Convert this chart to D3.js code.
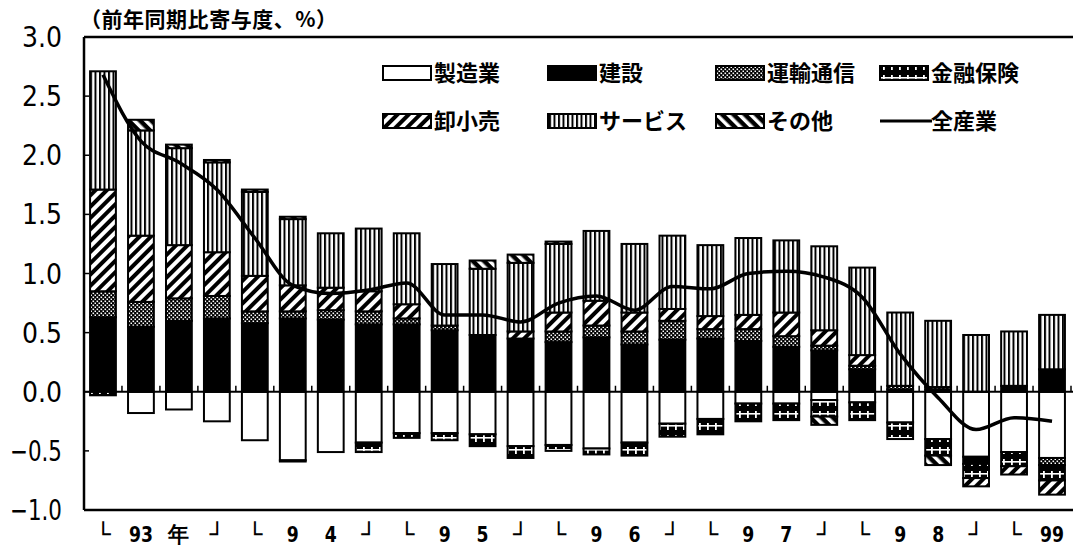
<!DOCTYPE html>
<html><head><meta charset="utf-8">
<script src="https://cdn.jsdelivr.net/npm/d3@7/dist/d3.min.js"></script>
<style>
html,body{margin:0;padding:0;background:#fff;}
svg{display:block;}
text{fill:#000;}
</style></head>
<body><svg id="chart" width="1075" height="550"></svg>
<script>
// ---------- data ----------
const quarters = ["93Q1","93Q2","93Q3","93Q4","94Q1","94Q2","94Q3","94Q4","95Q1","95Q2","95Q3","95Q4",
  "96Q1","96Q2","96Q3","96Q4","97Q1","97Q2","97Q3","97Q4","98Q1","98Q2","98Q3","98Q4","99Q1","99Q2"];
const xLabels = ["└","93","年","┘","└","9","4","┘","└","9","5","┘","└","9","6","┘","└","9","7","┘","└","9","8","┘","└","99"];
const seriesNames = ["製造業","建設","運輸通信","金融保険","卸小売","サービス","その他"];
const manufacturing = [0,-0.18,-0.15,-0.25,-0.41,-0.58,-0.51,-0.43,-0.35,-0.35,-0.36,-0.46,-0.45,-0.48,-0.43,-0.27,-0.23,-0.10,-0.10,-0.07,-0.09,-0.26,-0.40,-0.55,-0.51,-0.56];
const construction  = [0.63,0.55,0.60,0.62,0.58,0.62,0.61,0.57,0.57,0.52,0.48,0.45,0.42,0.46,0.40,0.44,0.45,0.43,0.38,0.35,0.19,0.02,0.02,-0.06,0.05,0.19];
const transport     = [0.22,0.21,0.19,0.19,0.10,0.06,0.08,0.11,0.05,0.04,0,0,0.09,0.10,0.11,0.16,0.08,0.10,0.09,0.04,0.03,0.03,0.02,0,0,-0.06];
const finance       = [-0.03,0,0,0,0,-0.01,0,-0.08,-0.04,-0.06,-0.10,-0.10,-0.05,-0.05,-0.11,-0.11,-0.13,-0.15,-0.14,-0.14,-0.15,-0.14,-0.14,-0.12,-0.12,-0.13];
const trade         = [0.86,0.56,0.45,0.37,0.30,0.22,0.19,0.17,0.12,0,0,0.06,0.16,0.21,0.16,0.10,0.11,0.12,0.20,0.13,0.09,0,0,-0.07,-0.07,-0.12];
const services      = [1.00,0.89,0.82,0.76,0.71,0.56,0.46,0.53,0.60,0.52,0.56,0.58,0.58,0.59,0.58,0.62,0.60,0.65,0.61,0.71,0.74,0.62,0.56,0.48,0.46,0.46];
const others        = [0,0.09,0.03,0.02,0.02,0.02,0,0,0,0,0.07,0.07,0.02,0,0,0,0,0,0,-0.07,0,0,-0.08,0,0,0];
const allIndustries = [2.68,2.12,1.94,1.71,1.30,0.90,0.83,0.86,0.92,0.65,0.65,0.59,0.75,0.81,0.69,0.89,0.87,1.00,1.02,0.97,0.80,0.32,-0.05,-0.32,-0.22,-0.25];
const yTicks = [3.0,2.5,2.0,1.5,1.0,0.5,0.0,-0.5,-1.0];
const lineName = "全産業";
const titleText = "（前年同期比寄与度、%）";

// ---------- build ----------
const seriesValues = [manufacturing, construction, transport, finance, trade, services, others];
const rows = quarters.map((q,i)=>{ const r={q}; seriesNames.forEach((n,k)=>r[n]=seriesValues[k][i]); return r; });

const svg = d3.select("#chart");
const L=84, R=1071, T=37, B=510;
const x = d3.scaleBand().domain(quarters).range([L,R]).paddingInner(0.32).paddingOuter(0.16);
const y = d3.scaleLinear().domain([-1,3]).range([B,T]);

// patterns
const defs = svg.append("defs");
function pat(id,w,h,bg,rot){ const p=defs.append("pattern").attr("id",id).attr("patternUnits","userSpaceOnUse").attr("width",w).attr("height",h); if(rot) p.attr("patternTransform",`rotate(${rot})`); p.append("rect").attr("width",w).attr("height",h).attr("fill",bg); return p; }
let p;
p = pat("pDots",4,4,"#000"); p.append("rect").attr("x",0.5).attr("y",0.5).attr("width",1.6).attr("height",1.6).attr("fill","#fff"); p.append("rect").attr("x",2.5).attr("y",2.5).attr("width",1.6).attr("height",1.6).attr("fill","#fff");
p = pat("pFin",8,12,"#000"); p.append("rect").attr("x",0).attr("y",5).attr("width",8).attr("height",1.6).attr("fill","#fff"); p.append("rect").attr("x",3).attr("y",3).attr("width",1.8).attr("height",7).attr("fill","#fff");
p = pat("pTrade",8,8,"#fff",45); p.append("rect").attr("width",4).attr("height",8).attr("fill","#000");
p = pat("pServ",4.5,10,"#fff"); p.append("rect").attr("width",2).attr("height",10).attr("fill","#000");
p = pat("pOther",8,8,"#000",-45); p.append("rect").attr("width",3.5).attr("height",8).attr("fill","#fff");
const fills = {"製造業":"#fff","建設":"#000","運輸通信":"url(#pDots)","金融保険":"url(#pFin)","卸小売":"url(#pTrade)","サービス":"url(#pServ)","その他":"url(#pOther)"};

// stacked bars
const stacked = d3.stack().keys(seriesNames).offset(d3.stackOffsetDiverging)(rows);
const gBars = svg.append("g");
stacked.forEach(s=>{
  gBars.append("g").selectAll("rect").data(s.filter(d=>Math.abs(d[1]-d[0])>1e-9)).join("rect")
    .attr("x",d=>x(d.data.q)).attr("width",x.bandwidth())
    .attr("y",d=>y(Math.max(d[0],d[1]))).attr("height",d=>Math.abs(y(d[0])-y(d[1])))
    .attr("fill",fills[s.key]).attr("stroke","#000").attr("stroke-width",2);
});

// frame
svg.append("line").attr("x1",L).attr("x2",R+2).attr("y1",T).attr("y2",T).attr("stroke","#000").attr("stroke-width",2.5);
svg.append("line").attr("x1",L).attr("x2",R+2).attr("y1",B).attr("y2",B).attr("stroke","#000").attr("stroke-width",2.5);
svg.append("line").attr("x1",L).attr("x2",L).attr("y1",T).attr("y2",B).attr("stroke","#000").attr("stroke-width",2.5);
// zero line with boundary ticks
svg.append("line").attr("x1",L).attr("x2",R+2).attr("y1",y(0)).attr("y2",y(0)).attr("stroke","#000").attr("stroke-width",2);
const step = x.step();
svg.append("g").selectAll("line").data(d3.range(1,quarters.length+1)).join("line")
  .attr("x1",k=>L+k*step).attr("x2",k=>L+k*step).attr("y1",y(0)).attr("y2",y(0)-6).attr("stroke","#000").attr("stroke-width",1.5);

// y axis ticks & labels
const yAxis = svg.append("g");
yAxis.selectAll("line").data(yTicks).join("line").attr("x1",L).attr("x2",L+5).attr("y1",d=>y(d)).attr("y2",d=>y(d)).attr("stroke","#000").attr("stroke-width",1.5);
yAxis.selectAll("text").data(yTicks).join("text")
  .attr("x",62).attr("y",d=>y(d)+10).attr("text-anchor","end")
  .attr("font-family","DejaVu Sans").attr("font-size",28)
  .attr("textLength",d=>d<0?52:40).attr("lengthAdjust","spacingAndGlyphs")
  .text(d=>d3.format(".1f")(d));

// x labels
svg.append("g").selectAll("text").data(quarters).join("text")
  .attr("transform",(d,i)=>`translate(${x(d)+x.bandwidth()/2},${542})`)
  .attr("text-anchor","middle").attr("font-family","DejaVu Sans").attr("font-weight","bold").attr("font-size",22)
  .attr("textLength",(d,i)=>xLabels[i].length===2?24:(/[0-9]/.test(xLabels[i])?12:(xLabels[i]==="年"?21:15))).attr("lengthAdjust","spacingAndGlyphs")
  .text((d,i)=>xLabels[i]);

// line
const line = d3.line().x((d,i)=>x(quarters[i])+x.bandwidth()/2).y(d=>y(d)).curve(d3.curveMonotoneX);
svg.append("path").datum(allIndustries).attr("d",line).attr("fill","none").attr("stroke","#000").attr("stroke-width",3.5).attr("stroke-linejoin","round");

// title
svg.append("text").attr("x",80).attr("y",27).attr("font-family","Noto Sans CJK JP").attr("font-weight","bold").attr("font-size",21)
  .attr("textLength",257).attr("lengthAdjust","spacing").text(titleText);

// legend
const legX = [383,548,716,880], legY=[66,114];
const order = ["製造業","建設","運輸通信","金融保険","卸小売","サービス","その他",lineName];
const gLeg = svg.append("g");
order.forEach((name,i)=>{
  const cx = legX[i%4], cy = legY[Math.floor(i/4)];
  if(name===lineName){
    gLeg.append("line").attr("x1",cx).attr("x2",cx+52).attr("y1",cy+7).attr("y2",cy+7).attr("stroke","#000").attr("stroke-width",3);
  } else {
    gLeg.append("rect").attr("x",cx).attr("y",cy).attr("width",48).attr("height",14).attr("fill",fills[name]).attr("stroke","#000").attr("stroke-width",2);
  }
  gLeg.append("text").attr("x",cx+51).attr("y",cy+15).attr("font-family","Noto Sans CJK JP").attr("font-weight","bold").attr("font-size",22).text(name);
});
</script></body></html>
